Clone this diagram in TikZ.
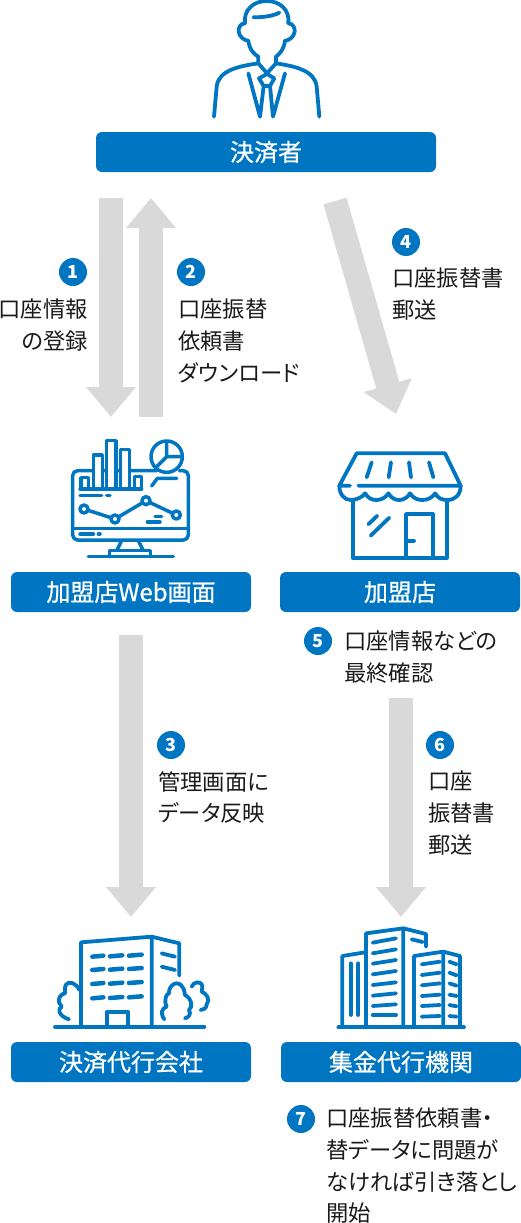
\documentclass[tikz,border=0pt]{standalone}
\usepackage{fontspec}
\usetikzlibrary{arrows.meta}
\setmainfont[RawFeature={+palt}]{Noto Sans CJK JP}
\newfontfamily\barfont[RawFeature={+palt},FakeBold=0.7]{Noto Sans CJK JP}
\definecolor{brand}{HTML}{0075C2}
\definecolor{arrowgray}{HTML}{D9D9D9}
\definecolor{ink}{HTML}{1A1A1A}
\tikzset{
  bar/.style={fill=brand,rounded corners=6pt,text=white,inner sep=0pt,align=center,font=\barfont\fontsize{24}{28}\selectfont},
  num/.style={circle,fill=brand,text=white,minimum size=28pt,inner sep=0pt,font=\fontsize{18}{18}\selectfont\bfseries},
  lab/.style={inner sep=0pt,text=ink,align=left,anchor=north west,font=\fontsize{22.3}{31.6}\selectfont},
  labr/.style={inner sep=0pt,text=ink,align=right,anchor=north east,font=\fontsize{22.3}{31.6}\selectfont},
  bigarrow/.style={draw=arrowgray,line width=24pt,-{Triangle[width=48pt,length=30pt,fill=arrowgray]}},
  ico/.style={draw=brand,line width=3.8pt,line cap=round,line join=round},
  icothin/.style={ico,line width=3.5pt},
}
\begin{document}
\begin{tikzpicture}[x=1pt,y=-1pt]
\useasboundingbox (0,0) rectangle (521,1223);
% bars
\node[bar,minimum width=340pt,minimum height=40pt] (payer) at (266,152) {決済者};
\node[bar,minimum width=240pt,minimum height=40pt] (webscreen) at (131,592) {加盟店Web画面};
\node[bar,minimum width=240pt,minimum height=40pt] (shop) at (400,592) {加盟店};
\node[bar,minimum width=240pt,minimum height=40pt] (agent) at (131,1062) {決済代行会社};
\node[bar,minimum width=240pt,minimum height=40pt] (bank) at (401,1062) {集金代行機関};
% arrows
\coordinate (a1s) at (111,198); \coordinate (a1e) at (111,417);
\coordinate (a2s) at (151,417); \coordinate (a2e) at (151,198);
\coordinate (a3s) at (131,635); \coordinate (a3e) at (131,917);
\coordinate (a4s) at (335,201); \coordinate (a4e) at (396,414);
\coordinate (a6s) at (401,698); \coordinate (a6e) at (401,917);
\draw[bigarrow] (a1s) -- (a1e);
\draw[bigarrow] (a2s) -- (a2e);
\draw[bigarrow] (a3s) -- (a3e);
\draw[bigarrow] (a4s) -- (a4e);
\draw[bigarrow] (a6s) -- (a6e);
% numbers
\node[num] (n1) at (73,272) {1};
\node[num] (n2) at (191,272) {2};
\node[num] (n3) at (171,745) {3};
\node[num] (n4) at (406,242) {4};
\node[num] (n5) at (318,641) {5};
\node[num] (n6) at (440,745) {6};
\node[num] (n7) at (301,1119) {7};
% labels
\node[labr] (t1) at (88,299) {口座情報\\の登録};
\node[lab] (t2) at (178,299) {口座振替\\依頼書\\ダウンロード};
\node[lab] (t3) at (158,771) {管理画面に\\データ反映};
\node[lab] (t4) at (392,268) {口座振替書\\郵送};
\node[lab] (t5) at (344,631) {口座情報などの\\最終確認};
\node[lab] (t6) at (428,771) {口座\\振替書\\郵送};
\node[lab] (t7) at (326,1108) {口座振替依頼書・\\替データに問題が\\なければ引き落とし\\開始};
% person icon
\begin{scope}[shift={(190,0)},scale=1/3]
\draw[ico] (165,70) .. controls (150,70) and (145,85) .. (146,95) .. controls (148,112) and (165,122) .. (175,122)
  .. controls (178,150) and (195,165) .. (205,170) -- (205,190)
  .. controls (150,198) and (85,210) .. (80,260) -- (72,350);
\draw[ico] (295,70) .. controls (310,70) and (315,85) .. (314,95) .. controls (312,112) and (295,122) .. (285,122)
  .. controls (282,150) and (265,165) .. (258,170) -- (258,190)
  .. controls (310,198) and (375,210) .. (380,260) -- (388,350);
\draw[ico] (165,70) .. controls (160,30) and (190,3) .. (230,3) .. controls (270,3) and (300,30) .. (295,70);
\draw[ico] (190,52) .. controls (220,52) and (250,48) .. (268,38);
\draw[ico] (205,190) -- (231,220) -- (258,190);
\draw[ico] (207,235) -- (231,222) -- (253,235) -- (240,258) -- (221,258) -- cycle;
\draw[ico] (221,258) -- (210,350) -- (175,220);
\draw[ico] (240,258) -- (249,350) -- (285,220);
\end{scope}
% monitor icon
\begin{scope}[shift={(60,430)},scale=1/3]
\draw[icothin,rounded corners=5pt] (290,122) -- (38,122) -- (38,330) -- (385,330) -- (385,122) -- (358,122);
\draw[icothin] (38,295) -- (385,295);
\draw[icothin,fill=white] (63,175) -- (63,143) -- (85,143) -- (85,175);
\draw[icothin,fill=white] (100,175) -- (100,75) -- (127,75) -- (127,175);
\draw[icothin,fill=white] (140,175) -- (140,32) -- (168,32) -- (168,175);
\draw[icothin,fill=white] (182,175) -- (182,58) -- (208,58) -- (208,175);
\draw[icothin,fill=white] (223,175) -- (223,140) -- (245,140) -- (245,175);
\draw[icothin] (60,177) -- (245,177);
\draw[icothin] (60,197) -- (125,197) (140,197) -- (150,197);
\draw[icothin] (72,237) -- (165,267) -- (258,212) -- (349,255);
\foreach \p in {(72,237),(165,267),(258,212),(349,255)}
  \draw[icothin,fill=white] \p circle (12);
\draw[icothin] (285,260) -- (305,260) (262,276) -- (300,276);
\draw[icothin] (60,312) -- (100,312) (115,312) -- (120,312);
\draw[icothin,fill=white] (320,80) circle (47);
\draw[icothin] (320,35) -- (320,80) -- (366,80) (320,80) -- (288,112);
\draw[icothin] (275,168) -- (292,145) -- (350,145);
\draw[icothin] (185,332) -- (170,362) (235,332) -- (250,362);
\draw[icothin] (148,380) -- (148,362) -- (272,362) -- (272,380);
\draw[icothin] (85,380) -- (340,380);
\end{scope}
% shop icon
\begin{scope}[shift={(330,445)},scale=1/3]
\draw[ico] (60,122) -- (28,122) -- (80,25) -- (345,25) -- (392,122) -- (85,122);
\draw[ico] (28,122) .. controls (28,150) and (45,165) .. (62,165) .. controls (80,165) and (100,155) .. (105,145)
  .. controls (115,160) and (125,165) .. (140,165) .. controls (155,165) and (170,155) .. (175,145)
  .. controls (185,160) and (195,165) .. (208,165) .. controls (222,165) and (235,155) .. (240,145)
  .. controls (250,160) and (262,165) .. (278,165) .. controls (295,165) and (310,155) .. (315,145)
  .. controls (325,160) and (335,165) .. (352,165) .. controls (375,165) and (392,150) .. (392,122);
\draw[ico] (125,52) -- (110,97) (183,52) -- (176,97) (237,52) -- (243,97) (297,52) -- (310,97);
\draw[ico] (68,170) -- (68,338) -- (350,338) -- (350,170);
\draw[ico] (228,338) -- (228,207) -- (308,207) -- (308,338);
\draw[ico] (228,287) -- (252,287);
\draw[ico] (115,238) -- (142,212) (122,272) -- (178,218);
\end{scope}
% company icon
\begin{scope}[shift={(45,925)},scale=1/3]
\draw[ico] (108,305) -- (108,52) -- (320,35) -- (320,305);
\draw[ico] (320,35) -- (403,55) -- (403,152);
\draw[ico] (350,85) -- (390,95) (350,125) -- (390,135);
\foreach \y in {95,135,177,220}
  \draw[ico,line width=4.5pt] (142,\y) -- (175,\y-3) (195,\y-1) -- (232,\y-4) (252,\y-3) -- (290,\y-6);
\draw[ico] (185,305) -- (185,262) -- (250,262) -- (250,305);
\draw[ico] (30,305) -- (478,305);
\draw[ico] (103,195) .. controls (95,175) and (70,165) .. (62,180) .. controls (58,190) and (62,200) .. (60,205)
  .. controls (50,205) and (38,220) .. (42,232) .. controls (45,240) and (50,242) .. (50,245)
  .. controls (38,250) and (38,272) .. (72,283);
\draw[ico] (358,283) .. controls (345,265) and (350,250) .. (365,245) .. controls (355,225) and (365,205) .. (372,205)
  .. controls (370,180) and (400,160) .. (415,190) .. controls (420,200) and (418,205) .. (420,210)
  .. controls (440,220) and (445,245) .. (432,255) .. controls (440,268) and (430,278) .. (420,280);
\draw[ico] (440,185) .. controls (445,170) and (470,165) .. (472,185) .. controls (472,195) and (468,198) .. (470,200)
  .. controls (485,205) and (497,225) .. (485,238) .. controls (485,250) and (475,255) .. (467,255);
\end{scope}
% bank icon
\begin{scope}[shift={(330,920)},scale=1/3]
\draw[ico] (25,322) -- (402,322);
\draw[ico] (37,322) -- (37,108) -- (105,97);
\draw[ico] (62,130) -- (62,285) (85,130) -- (85,285);
\draw[ico] (108,322) -- (108,40) -- (220,25) -- (220,322);
\draw[ico] (220,25) -- (288,42) -- (288,80);
\draw[ico] (245,58) -- (278,66);
\draw[ico] (128,68) -- (198,55);
\draw[ico] (128,100) -- (198,88);
\draw[ico] (128,131) -- (198,120);
\draw[ico] (128,163) -- (198,153);
\draw[ico] (128,195) -- (198,187);
\draw[ico] (128,227) -- (198,220);
\draw[ico] (128,258) -- (198,253);
\draw[ico] (128,285) -- (198,285);
\draw[ico] (252,322) -- (252,108) -- (340,95) -- (340,322);
\draw[ico] (340,95) -- (390,108) -- (390,322);
\foreach \a/\b/\c/\d in {133/125/125/133,165/158/158/166,196/190/190/197,228/224/224/228,258/255/255/259,290/288/288/290}
  \draw[ico] (275,\a) -- (330,\b) (358,\c) -- (380,\d);
\end{scope}
\end{tikzpicture}
\end{document}
